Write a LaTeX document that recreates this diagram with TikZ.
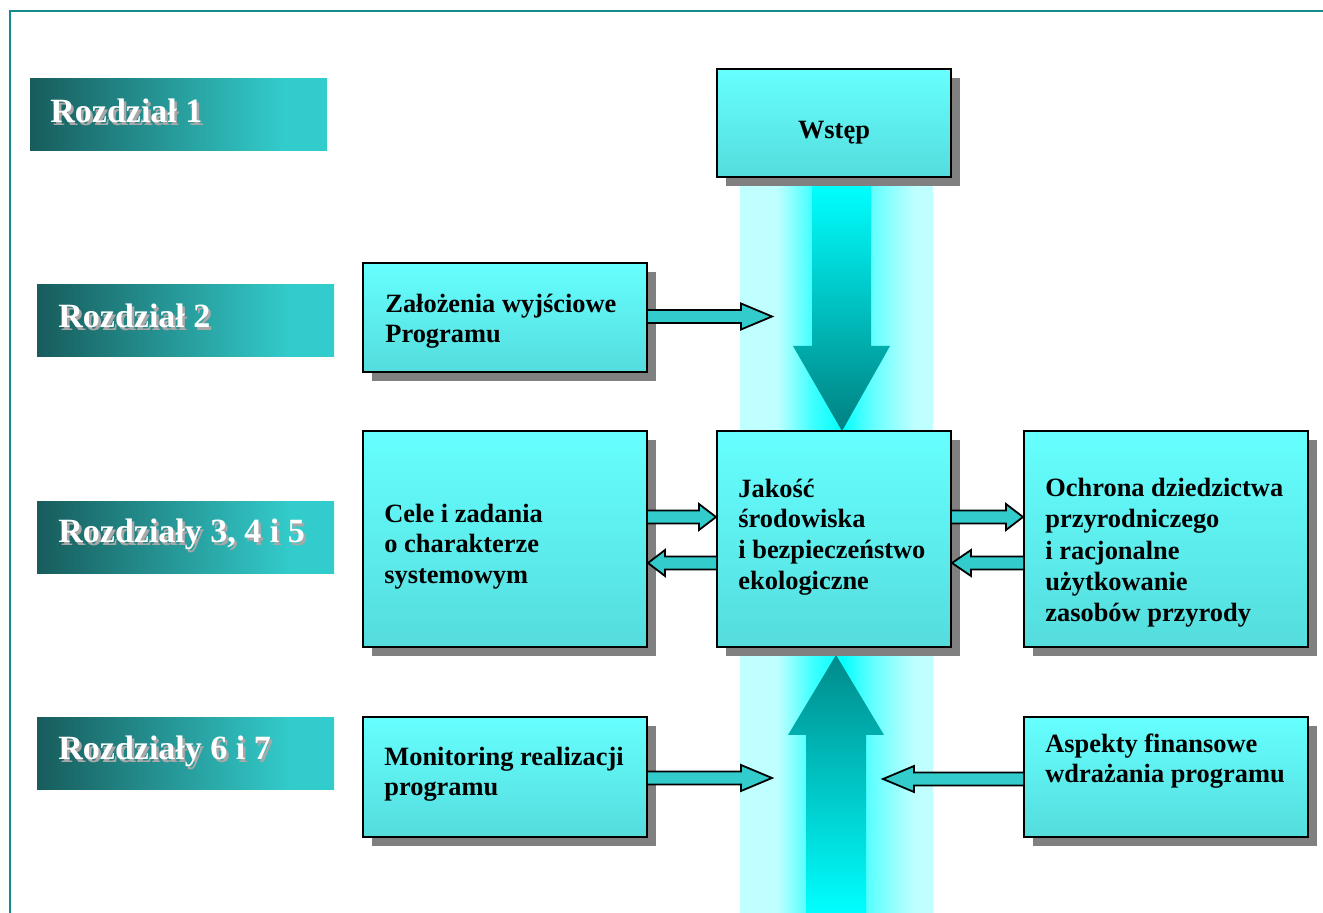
\documentclass[tikz,border=0pt]{standalone}
\usepackage{fontspec}
\setmainfont{Liberation Serif}
\usetikzlibrary{calc,shadows}
\definecolor{framec}{RGB}{20,138,138}
\definecolor{boxtop}{HTML}{66FFFF}
\definecolor{boxbot}{HTML}{55DCDC}
\definecolor{arrowc}{HTML}{33CCCC}
\definecolor{shadowc}{HTML}{808080}
\definecolor{labA}{HTML}{185C5C}
\definecolor{labB}{HTML}{33CCCC}
\definecolor{labsh}{HTML}{A8A8A8}
\definecolor{bandL}{HTML}{C0FFFF}
\definecolor{bandA}{HTML}{40FFFF}
\definecolor{bandM}{HTML}{00FFFF}
\definecolor{bandB}{HTML}{60FFFF}
\definecolor{bandC}{HTML}{A0FFFF}
\definecolor{tealdark}{HTML}{008080}
\definecolor{tealup}{HTML}{008A8A}
\pgfdeclarehorizontalshading{labshade}{100bp}{color(0bp)=(labA); color(25bp)=(labA); color(68bp)=(labB); color(100bp)=(labB)}
\pgfdeclarehorizontalshading{bandshade}{100bp}{color(0bp)=(bandL); color(25bp)=(bandL); color(34.6bp)=(bandL); color(43.7bp)=(bandA); color(51.4bp)=(bandM); color(58.9bp)=(bandB); color(66.4bp)=(bandC); color(70.3bp)=(bandL); color(100bp)=(bandL)}
\newcommand\blockarrow[3]{\draw[smallarrow] ($(#1)+(0,-6.5)$) -- ($(#2)+(#3,-6.5)$) -- ($(#2)+(#3,-13)$) -- (#2) -- ($(#2)+(#3,13)$) -- ($(#2)+(#3,6.5)$) -- ($(#1)+(0,6.5)$);}
\begin{document}
\begin{tikzpicture}[x=0.5pt,y=-0.5pt,
  box/.style={draw=black, line width=1pt, rectangle, inner sep=0pt, top color=boxtop, bottom color=boxbot,
    drop shadow={shadow xshift=4.5pt, shadow yshift=-4.5pt, fill=shadowc, opacity=1}},
  lab/.style={rectangle, inner sep=0pt, shade, shading=labshade, minimum width=148.5pt, minimum height=36pt},
  labtext/.style={anchor=base west, inner sep=0pt, font=\bfseries\fontsize{17}{20}\selectfont, text=white},
  labshadow/.style={labtext, text=labsh},
  btext/.style={anchor=north west, inner sep=0pt, align=left, font=\bfseries\fontsize{13.2}{15.3}\selectfont},
  smallarrow/.style={fill=arrowc, draw=black, line width=0.9pt, line join=miter},
]
\useasboundingbox (0,0) rectangle (1323,913);
% central band and big arrows
\shade[shading=bandshade] (740,186) rectangle (933,913);
\shade[top color=bandM, bottom color=tealdark] (812,186) -- (871,186) -- (871,346) -- (890,346) -- (842,431) -- (793,346) -- (812,346) -- cycle;
\shade[top color=tealup, bottom color=bandM] (806,913) -- (806,735) -- (788,735) -- (836,655) -- (884,735) -- (866,735) -- (866,913) -- cycle;
% frame
\draw[framec, line width=1.1pt] (10,913) -- (10,11) -- (1323,11);
% chapter labels
\node[lab] (r1) at (178.5,115) {};
\node[lab] (r2) at (185.5,321) {};
\node[lab] (r3) at (185.5,537.5) {};
\node[lab] (r6) at (185.5,753.5) {};
\node[labshadow] (r1s) at (52.5,125.5) {Rozdział 1};
\node[labtext] (r1t) at (50,123) {Rozdział 1};
\node[labshadow] (r2s) at (60.5,330.5) {Rozdział 2};
\node[labtext] (r2t) at (58,328) {Rozdział 2};
\node[labshadow] (r3s) at (60.5,545.5) {Rozdziały 3, 4 i 5};
\node[labtext] (r3t) at (58,543) {Rozdziały 3, 4 i 5};
\node[labshadow] (r6s) at (60.5,762.5) {Rozdziały 6 i 7};
\node[labtext] (r6t) at (58,760) {Rozdziały 6 i 7};
% boxes
\node[box, minimum width=117pt, minimum height=54pt] (wstep) at (834,123) {};
\node[box, minimum width=142pt, minimum height=54.5pt] (zal) at (505,317.5) {};
\node[box, minimum width=142pt, minimum height=108pt] (cele) at (505,539) {};
\node[box, minimum width=117pt, minimum height=108pt] (jak) at (834,539) {};
\node[box, minimum width=142pt, minimum height=108pt] (och) at (1166,539) {};
\node[box, minimum width=142pt, minimum height=60pt] (mon) at (505,777) {};
\node[box, minimum width=142pt, minimum height=60pt] (asp) at (1166,777) {};
% texts
\node[anchor=base, inner sep=0pt, font=\bfseries\fontsize{13.2}{15.3}\selectfont] (wstept) at (834,139) {Wstęp};
\node[btext] (zalt) at (385,286) {\rule{0pt}{13pt}Założenia wyjściowe\\Programu};
\node[btext] (celet) at (384,496) {\rule{0pt}{13pt}Cele i zadania\\o charakterze\\systemowym};
\node[btext] (jakt) at (738,471) {\rule{0pt}{13pt}Jakość\\środowiska\\i bezpieczeństwo\\ekologiczne};
\node[btext, font=\bfseries\fontsize{13.2}{15.7}\selectfont] (ocht) at (1045,470) {\rule{0pt}{13pt}Ochrona dziedzictwa\\przyrodniczego\\i racjonalne\\użytkowanie\\zasobów przyrody};
\node[btext] (mont) at (384,739) {\rule{0pt}{13pt}Monitoring realizacji\\programu};
\node[btext] (aspt) at (1045,726) {\rule{0pt}{13pt}Aspekty finansowe\\wdrażania programu};
% small block arrows
\coordinate (a1s) at ($(zal.east)+(0,-1)$);
\coordinate (a1e) at ($(a1s)+(124,0)$);
\coordinate (a2s) at ($(cele.east)+(0,-22)$);
\coordinate (a2e) at ($(jak.west)+(0,-22)$);
\coordinate (a3s) at ($(jak.west)+(0,24)$);
\coordinate (a3e) at ($(cele.east)+(0,24)$);
\coordinate (a4s) at ($(jak.east)+(0,-22)$);
\coordinate (a4e) at ($(och.west)+(0,-22)$);
\coordinate (a5s) at ($(och.west)+(0,24)$);
\coordinate (a5e) at ($(jak.east)+(0,24)$);
\coordinate (a6s) at ($(mon.east)+(0,1)$);
\coordinate (a6e) at ($(a6s)+(124,0)$);
\coordinate (a7s) at ($(asp.west)+(0,2)$);
\coordinate (a7e) at ($(a7s)+(-140,0)$);
\blockarrow{a1s}{a1e}{-31}
\blockarrow{a2s}{a2e}{-17}
\blockarrow{a3s}{a3e}{17}
\blockarrow{a4s}{a4e}{-17}
\blockarrow{a5s}{a5e}{19}
\blockarrow{a6s}{a6e}{-31}
\blockarrow{a7s}{a7e}{31}
\end{tikzpicture}
\end{document}
